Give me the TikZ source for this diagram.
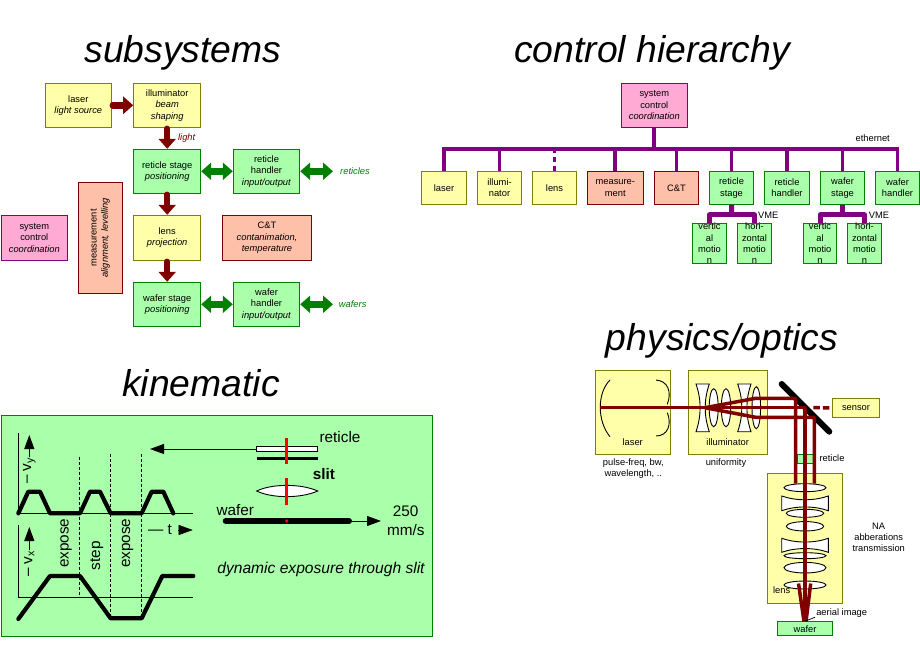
\documentclass[tikz,border=0pt]{standalone}
\usepackage{fontspec}
\setmainfont{Liberation Sans}
\usetikzlibrary{arrows.meta,calc}
\definecolor{yf}{HTML}{FFFFAA}\definecolor{yd}{HTML}{808000}
\definecolor{gf}{HTML}{AAFFAA}\definecolor{gd}{HTML}{008000}
\definecolor{sf}{HTML}{FFC0AA}\definecolor{dr}{HTML}{800000}
\definecolor{pf}{HTML}{FFAAD4}\definecolor{pd}{HTML}{800080}
\newcommand{\smalltxt}{\fontsize{9.33}{11.3}\selectfont}
\newcommand{\bigtxt}{\fontsize{15.3}{18.5}\selectfont}
\tikzset{
  x=1pt,y=-1pt,
  boxbase/.style={draw,line width=1pt,inner sep=0pt,align=center,font=\smalltxt,minimum width=#1},
  ybox/.style={boxbase=#1,fill=yf,draw=yd},
  gbox/.style={boxbase=#1,fill=gf,draw=gd},
  sbox/.style={boxbase=#1,fill=sf,draw=dr},
  pbox/.style={boxbase=#1,fill=pf,draw=pd},
  hh/.style={minimum height=#1},
  title/.style={font=\fontsize{37.3}{42}\selectfont\itshape,inner sep=0pt},
  lab/.style={font=\smalltxt,inner sep=0pt,align=center},
  biglab/.style={font=\bigtxt,inner sep=0pt,align=center},
  redarrow/.style={draw=dr,line width=6.5pt,line cap=round,shorten <=1pt,-{Triangle[length=10pt,width=17pt]}},
  greenarrow/.style={draw=gd,line width=6.5pt,{Triangle[length=10pt,width=17pt]}-{Triangle[length=10pt,width=17pt]}},
  busline/.style={draw=pd,line width=3.8pt},
  vmeline/.style={draw=pd,line width=5pt},
  thinax/.style={draw=black,line width=1pt},
  motion/.style={draw=black,line width=4.2pt,line cap=round,line join=round},
  dashv/.style={draw=black,line width=.8pt,densely dashed},
  kinarrow/.style={draw=black,line width=1pt,-{Triangle[length=14pt,width=10pt]}},
  redslit/.style={draw=red,line width=3pt},
  beam/.style={draw=dr,line width=3.5pt,line join=round},
  optic/.style={draw=black,line width=.9pt,fill=white},
  mirrorline/.style={draw=black,line width=.9pt},
}
\begin{document}
\begin{tikzpicture}
\useasboundingbox (0,0) rectangle (920,660);
% titles
\node[title] (t1) at (183,52.5) {subsystems};
\node[title] (t2) at (652,52.5) {control hierarchy};
\node[title] (t3) at (201,383) {kinematic};
\node[title] (t4) at (722,341) {physics/optics};
% subsystems
\node[ybox=66pt,hh=44pt] (laser) at (78.3,105.3) {laser\\\textit{light source}};
\node[ybox=67pt,hh=44pt] (illum) at (167.2,105.3) {illuminator\\\textit{beam}\\\textit{shaping}};
\node[gbox=67pt,hh=44pt] (rstage) at (167.2,171.3) {reticle stage\\\textit{positioning}};
\node[gbox=66.4pt,hh=44pt] (rhand) at (266.5,171.3) {reticle\\handler\\\textit{input/output}};
\node[ybox=67pt,hh=45pt] (lens) at (167.2,237.8) {lens\\\textit{projection}};
\node[gbox=67pt,hh=44pt] (wstage) at (167.2,304.3) {wafer stage\\\textit{positioning}};
\node[gbox=66.4pt,hh=44pt] (whand) at (266.5,304.3) {wafer\\handler\\\textit{input/output}};
\node[sbox=89.4pt,hh=45pt] (ct) at (267,237.8) {C\&T\\\textit{contanimation,}\\\textit{temperature}};
\node[pbox=66pt,hh=45pt] (sys) at (34.3,237.8) {system\\control\\\textit{coordination}};
\node[sbox=111pt,hh=44pt,rotate=90] (meas) at (100.3,237.8) {measurement\\\textit{alignment, levelling}};
\node[lab,text=dr,font=\smalltxt\itshape] (lightl) at (186.7,137.7) {light};
\node[lab,text=gd,font=\smalltxt\itshape] (retl) at (355,171.3) {reticles};
\node[lab,text=gd,font=\smalltxt\itshape] (wafl) at (352.7,304.3) {wafers};
\coordinate (retout) at (333,171.3);
\coordinate (wafout) at (333,304.3);
\draw[redarrow] (laser.east) -- (illum.west);
\draw[redarrow] (illum.south) -- (rstage.north);
\draw[redarrow] (rstage.south) -- (lens.north);
\draw[redarrow] (lens.south) -- (wstage.north);
\draw[greenarrow] (rstage.east) -- (rhand.west);
\draw[greenarrow] (whand.west) -- (wstage.east);
\draw[greenarrow] (rhand.east) -- (retout);
\draw[greenarrow] (whand.east) -- (wafout);
% control hierarchy
\node[pbox=66pt,hh=44pt] (csys) at (654.3,105.3) {system\\control\\\textit{coordination}};
\coordinate (busy) at (654.3,149);
\node[ybox=45.4pt,hh=32.6pt] (c1) at (444,188) {laser};
\node[ybox=44.4pt,hh=32.6pt] (c2) at (499.5,188) {illumi-\\nator};
\node[ybox=44.4pt,hh=32.6pt] (c3) at (554.5,188) {lens};
\node[sbox=56pt,hh=32.6pt] (c4) at (615.3,188) {measure-\\ment};
\node[sbox=44.4pt,hh=32.6pt] (c5) at (676.5,188) {C\&T};
\node[gbox=44.4pt,hh=32.6pt] (c6) at (731.5,188) {reticle\\stage};
\node[gbox=45.4pt,hh=32.6pt] (c7) at (787,188) {reticle\\handler};
\node[gbox=44.4pt,hh=32.6pt] (c8) at (842.5,188) {wafer\\stage};
\node[gbox=44.4pt,hh=32.6pt] (c9) at (897.5,188) {wafer\\handler};
\node[gbox=34.4pt,hh=33.6pt] (m1) at (709.5,243.5) {vertic\\al\\motio\\n};
\node[gbox=34.4pt,hh=33.6pt] (m2) at (754.5,243.5) {hori-\\zontal\\motio\\n};
\node[gbox=33.4pt,hh=33.6pt] (m3) at (820,243.5) {vertic\\al\\motio\\n};
\node[gbox=34.4pt,hh=33.6pt] (m4) at (864.5,243.5) {hori-\\zontal\\motio\\n};
\node[lab] (eth) at (872.7,137.7) {ethernet};
\node[lab] (vme1) at (768.3,215) {VME};
\node[lab] (vme2) at (879,215) {VME};
\draw[busline] (csys.south) -- (csys.south |- busy);
\draw[busline,line join=miter] (c1.north) -- (c1.north |- busy) -- (c9.north |- busy) -- (c9.north);
\foreach \n in {c2,c4,c5,c6,c7,c8}{\draw[busline] (\n.north) -- (\n.north |- busy);}
\draw[busline,dash pattern=on 5pt off 4pt] (c3.north) -- (c3.north |- busy);
\coordinate (v1) at (731.7,215);
\coordinate (v2) at (842.5,215);
\draw[vmeline] (c6.south) -- (v1);
\draw[vmeline,line join=round] (m1.north) -- (m1.north |- v1) -- (m2.north |- v1) -- (m2.north);
\draw[vmeline] (c8.south) -- (v2);
\draw[vmeline,line join=round] (m3.north) -- (m3.north |- v2) -- (m4.north |- v2) -- (m4.north);
% kinematic
\node[gbox=431pt,hh=220.5pt] (kin) at (216.5,526.2) {};
\begin{scope}[shift={(0,410)},x=.3333pt,y=-.3333pt]
  \draw[thinax] (55,70) -- (55,310) -- (578,310);
  \draw[thinax] (55,345) -- (55,562) -- (578,562);
  \draw[dashv] (238,140) -- (238,562);
  \draw[dashv] (332,132) -- (332,625);
  \draw[dashv] (425,132) -- (425,625);
  \draw[motion] (55,310) -- (85,245) -- (120,245) -- (150,310) -- (240,310) -- (270,245) -- (300,245) -- (332,310) -- (425,310) -- (455,245) -- (490,245) -- (520,310);
  \draw[motion] (55,627) -- (150,498) -- (240,498) -- (332,625) -- (425,625) -- (487,498) -- (580,498);
\end{scope}
\node[biglab,rotate=90,anchor=west] (vy) at (29.3,484) {– v\textsubscript{y}};
\coordinate (vyt) at (29.3,435);
\draw[kinarrow] (vy.east) -- (vyt);
\node[biglab,rotate=90,anchor=west] (vx) at (29.3,577) {– v\textsubscript{x}};
\coordinate (vxt) at (29.3,527);
\draw[kinarrow] (vx.east) -- (vxt);
\node[biglab,rotate=90] (e1) at (66,543.3) {expose};
\node[biglab,rotate=90] (st) at (96.7,555.7) {step};
\node[biglab,rotate=90] (e2) at (127.7,543.3) {expose};
\node[biglab,anchor=west] (tl) at (148,530) {— t};
\coordinate (tt) at (192.7,530);
\draw[kinarrow,line width=.5pt] ([xshift=6pt]tl.east) -- (tt);
% reticle/wafer
\node[draw=black,fill=white,line width=1pt,minimum width=61pt,minimum height=5.4pt,inner sep=0pt] (ret) at (287.2,449) {};
\coordinate (rett) at (150,449);
\draw[kinarrow] (ret.west) -- (rett);
\draw[draw=black,line width=3pt] (256.7,458.3) -- (317.7,458.3);
\draw[redslit] (286.7,438.3) -- (286.7,464.3);
\draw[optic] (256.7,491) .. controls (272,483.5) and (301,483.5) .. (317.7,491) .. controls (301,498.5) and (272,498.5) .. cycle;
\draw[redslit] (286.7,478.3) -- (286.7,505);
\draw[draw=black,line width=6pt,line cap=round] (225.7,521) -- (349,521);
\fill[red] (286.7,521) circle (1.8pt);
\coordinate (wafs) at (351.7,521);
\coordinate (wafe) at (381,521);
\draw[kinarrow] (wafs) -- (wafe);
\node[biglab] (rl) at (340,436.7) {reticle};
\node[biglab,font=\bigtxt\bfseries] (sl) at (324,474) {slit};
\node[biglab] (wl) at (235.3,510) {wafer};
\node[biglab] (sp1) at (405.7,511) {250};
\node[biglab] (sp2) at (405.7,530) {mm/s};
\node[biglab,font=\fontsize{15.6}{18.5}\selectfont\itshape] (dyn) at (321,569) {dynamic exposure through slit};
% physics/optics
\node[ybox=75.4pt,hh=84pt] (plaser) at (633,412.3) {};
\node[ybox=79pt,hh=84pt] (pill) at (727.8,412.3) {};
\node[ybox=75pt,hh=130pt] (plens) at (804.8,538.3) {};
\node[ybox=47.4pt,hh=19pt] (sensor) at (856,407.8) {sensor};
\node[gbox=16pt,hh=9pt] (pret) at (805.3,458.8) {};
\node[gbox=55.4pt,hh=14.3pt] (pwaf) at (805,628.8) {wafer};
\node[lab] (pl1) at (632.7,441.7) {laser};
\node[lab] (pl2) at (727.7,441.7) {illuminator};
\node[lab] (pl3) at (633.3,468.8) {pulse-freq, bw,\\wavelength, ..};
\node[lab] (pl4) at (726,463.3) {uniformity};
\node[lab] (pl5) at (832,457.7) {reticle};
\node[lab] (pl7) at (841.7,612.7) {aerial image};
\node[lab] (pl8) at (878.7,537.3) {NA\\abberations\\transmission};
% laser mirrors
\draw[mirrorline] (610,380) .. controls (597,393) and (597,421) .. (610,436.7);
\draw[mirrorline] (656,380) .. controls (668,381) and (672,392) .. (667.3,404.3);
\draw[mirrorline] (667.3,412.7) .. controls (672,424) and (668,436) .. (656,436);
% illuminator optics
\draw[optic] (696,384) -- (709.3,384) .. controls (703.8,400) and (703.8,415.4) .. (709.3,431.7) -- (696,431.7) .. controls (701.5,415.4) and (701.5,400) .. cycle;
\draw[optic] (713.7,407.7) ellipse [x radius=4.5pt,y radius=19pt];
\draw[optic] (726,407.7) ellipse [x radius=4.7pt,y radius=19pt];
\draw[optic] (737.7,384) -- (751,384) .. controls (745.5,400) and (745.5,415.4) .. (751,431.7) -- (737.7,431.7) .. controls (743.2,415.4) and (743.2,400) .. cycle;
\draw[optic] (756.3,407.7) ellipse [x radius=4.3pt,y radius=21pt];
% projection lens optics
\draw[optic] (805,487.7) ellipse [x radius=21pt,y radius=4pt];
\draw[optic] (781.7,496) .. controls (796,501) and (814,501) .. (828.3,496) -- (828.3,510.7) .. controls (814,505.7) and (796,505.7) .. (781.7,510.7) -- cycle;
\draw[optic] (805,513.3) ellipse [x radius=18.7pt,y radius=4pt];
\draw[optic] (805,526.3) ellipse [x radius=18.7pt,y radius=4.7pt];
\draw[optic] (781.7,538.3) .. controls (796,543.3) and (814,543.3) .. (828.3,538.3) -- (828.3,552.3) .. controls (814,547.3) and (796,547.3) .. (781.7,552.3) -- cycle;
\draw[optic] (805,555.7) ellipse [x radius=21pt,y radius=3pt];
\draw[optic] (805,567.7) ellipse [x radius=21pt,y radius=5.3pt];
\draw[optic] (805,585) ellipse [x radius=21pt,y radius=4pt];
\node[lab] (pl6) at (781.7,590.3) {lens};
% mirror under beams
\draw[draw=black,line width=6pt,line cap=round] (781.7,384) -- (829.3,431.7);
% beams
\coordinate (focus) at (705,407.7);
\draw[beam] (600,407.7) -- (805,407.7) -- (805,621);
\draw[beam] (focus) -- (755.7,398.3) -- (795.7,398.3) -- (795.7,483.5);
\draw[beam] (focus) -- (755.7,417.3) -- (814.3,417.3) -- (814.3,483.5);
\draw[beam] (798.5,583.5) -- (804,621.5);
\draw[beam] (810.7,583.5) -- (806,621.5);
\draw[beam,dash pattern=on 6.5pt off 3pt] (813.3,407.7) -- (sensor.west);
\draw[draw=black,line width=.7pt] (pl7.south west) ++(-1pt,0pt) -- (pwaf.north);
\end{tikzpicture}
\end{document}
